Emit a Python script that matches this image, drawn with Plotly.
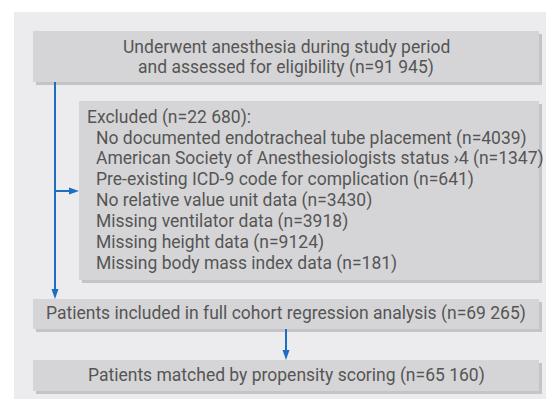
import plotly.graph_objects as go

# ---- data ----
total_n = 91945
excluded_n = 22680
excluded_reasons = [
    "No documented endotracheal tube placement",
    "American Society of Anesthesiologists status \u203a4",
    "Pre-existing ICD-9 code for complication",
    "No relative value unit data",
    "Missing ventilator data",
    "Missing height data",
    "Missing body mass index data",
]
excluded_counts = [4039, 1347, 641, 3430, 3918, 9124, 181]
included_n = 69265
matched_n = 65160


def fmt(n):
    s = str(n)
    if n >= 10000:
        s = s[:-3] + " " + s[-3:]
    return s


FONT = "Roboto"
FS = 17.5
TXT = "#555555"
PANEL = "#ececee"
BOX = "#d5d5d7"
SHADOW = "#c4c4c6"
BLUE = "#1a6fc0"

fig = go.Figure()
shapes = []
annots = []

# panel
shapes.append(dict(type="rect", x0=14, x1=546, y0=12, y1=399, fillcolor=PANEL, line_width=0, layer="below"))


def box(x0, x1, y0, y1):
    shapes.append(dict(type="rect", x0=x0 + 3, x1=x1 + 3, y0=y0 + 3, y1=y1 + 3, fillcolor=SHADOW, line_width=0, layer="below"))
    shapes.append(dict(type="rect", x0=x0, x1=x1, y0=y0, y1=y1, fillcolor=BOX, line_width=0, layer="below"))


box(33, 539, 31, 82)
box(79, 539, 101, 280)
box(33, 539, 299, 329)
box(33, 539, 360, 391)


def text(x, y, s, anchor="center"):
    annots.append(dict(x=x, y=y, text=s, showarrow=False, xanchor=anchor, yanchor="middle", borderpad=0,
                       font=dict(family=FONT, size=FS, color=TXT)))


text(286, 46.5, "Underwent anesthesia during study period")
text(286, 67.5, "and assessed for eligibility (n=%s)" % fmt(total_n))
text(86, 117, "Excluded (n=%s):" % fmt(excluded_n), "left")
for i, (r, c) in enumerate(zip(excluded_reasons, excluded_counts)):
    text(95, 138 + i * 20.86, "%s (n=%s)" % (r, fmt(c)), "left")
text(286, 313.5, "Patients included in full cohort regression analysis (n=%s)" % fmt(included_n))
text(286, 375, "Patients matched by propensity scoring (n=%s)" % fmt(matched_n))

# arrows
shapes.append(dict(type="line", x0=55, x1=55, y0=82, y1=291, line=dict(color=BLUE, width=2)))
shapes.append(dict(type="path", path="M 51.5 289 L 58.5 289 L 55 299 Z", fillcolor=BLUE, line_width=0))
shapes.append(dict(type="line", x0=55, x1=71, y0=191, y1=191, line=dict(color=BLUE, width=2)))
shapes.append(dict(type="path", path="M 69 187.5 L 69 194.5 L 79 191 Z", fillcolor=BLUE, line_width=0))
shapes.append(dict(type="line", x0=286, x1=286, y0=329, y1=352, line=dict(color=BLUE, width=2)))
shapes.append(dict(type="path", path="M 282.5 350 L 289.5 350 L 286 360 Z", fillcolor=BLUE, line_width=0))

fig.update_layout(
    width=560, height=401, margin=dict(l=0, r=0, t=0, b=0),
    paper_bgcolor="white", plot_bgcolor="white",
    xaxis=dict(range=[0, 560], visible=False, fixedrange=True),
    yaxis=dict(range=[401, 0], visible=False, fixedrange=True),
    shapes=shapes, annotations=annots, showlegend=False,
)
fig.write_html("out.html", config=dict(displayModeBar=False),
               post_script="document.body.style.margin='0';document.body.style.overflow='hidden';")
